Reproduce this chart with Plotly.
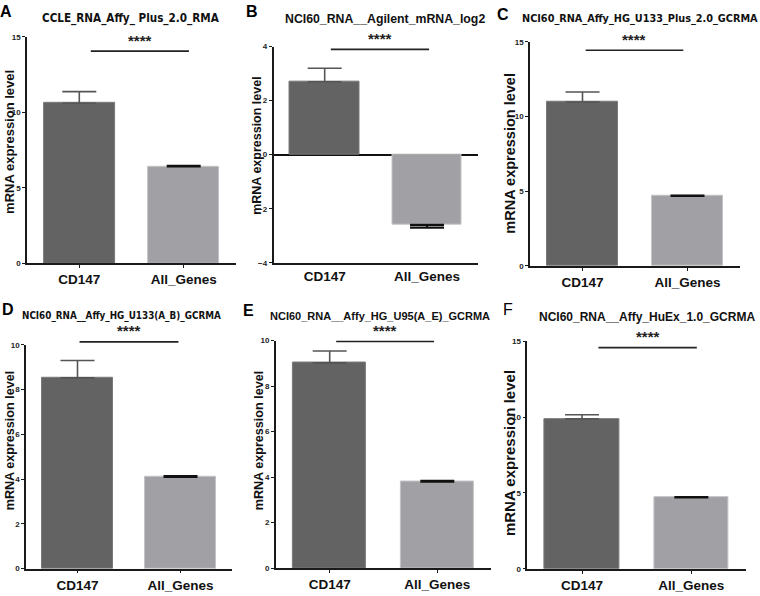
import plotly.graph_objects as go

W, H = 760, 596

# ---------------- data ----------------
categories = ["CD147", "All_Genes"]
panel_letters = ["A", "B", "C", "D", "E", "F"]
panel_titles = [
    "CCLE_RNA_Affy_ Plus_2.0_RMA",
    "NCI60_RNA__Agilent_mRNA_log2",
    "NCI60_RNA_Affy_HG_U133_Plus_2.0_GCRMA",
    "NCI60_RNA__Affy_HG_U133(A_B)_GCRMA",
    "NCI60_RNA__Affy_HG_U95(A_E)_GCRMA",
    "NCI60_RNA__Affy_HuEx_1.0_GCRMA",
]
cd147_mean = [10.6, 2.7, 10.97, 8.52, 9.02, 9.88]
cd147_err = [0.77, 0.5, 0.67, 0.78, 0.52, 0.27]
allgenes_mean = [6.42, -2.6, 4.68, 4.1, 3.8, 4.7]
allgenes_err = [0.03, 0.1, 0.03, 0.03, 0.03, 0.03]
y_ranges = [[0, 15], [-4, 4], [0, 15], [0, 10], [0, 10], [0, 15]]
y_dticks = [5, 2, 5, 2, 2, 5]
sig_y = [14.05, 3.9, 14.43, 10.13, 9.96, 14.57]
sig_x0 = [0.11, 0.06, 0.03, 0.02, 0.06, 0.15]
sig_x1 = [1.05, 1.02, 0.96, 0.98, 0.97, 1.05]
sig_label = "****"
y_title = "mRNA expression level"

X_RANGE = [-0.5, 1.5]

# ---------------- layout geometry (pixels) ----------------
frames = [  # x_left, x_right, y_top, y_bottom
    (27.1, 235.9, 33.3, 263.3),
    (273.5, 478.2, 43.3, 262.7),
    (530.0, 740.0, 38.3, 266.0),
    (26.0, 232.0, 346.0, 573.3),
    (275.9, 491.1, 341.7, 572.7),
    (527.4, 746.0, 342.3, 573.5),
]
NARROW = "DejaVu Sans Condensed, Liberation Sans"
title_pos = [(130.5, 15), (385, 15), (640, 15), (121.7, 316.7), (380.3, 316.7), (646.5, 318)]
title_font = [
    dict(family=NARROW, size=11.6, weight="bold"),
    dict(family="Liberation Sans", size=12.3, weight="bold"),
    dict(family=NARROW, size=10.8, weight="bold"),
    dict(family=NARROW, size=9.8, weight="bold"),
    dict(family="Liberation Sans", size=11, weight="bold"),
    dict(family="Liberation Sans", size=12, weight="bold"),
]
letter_pos = [(6, 8), (252, 8), (503, 11), (8, 310), (248, 311), (508, 310)]
letter_bold = [True, True, True, True, True, False]
ytitle_pos = [(10, 140), (257, 144), (510, 152), (10, 443), (259, 443), (509, 456)]
ytitle_size = [13, 12.5, 14.5, 12.6, 12.6, 15]

DARK = "#636363"
LIGHT = "#a1a1a5"


def dom_x(v):
    return (v - X_RANGE[0]) / (X_RANGE[1] - X_RANGE[0])


def dom_y(v, r):
    return (v - r[0]) / (r[1] - r[0])


fig = go.Figure()
shapes = []
annotations = []
layout = dict(
    width=W, height=H, margin=dict(l=0, r=0, t=0, b=0),
    plot_bgcolor="white", paper_bgcolor="white", showlegend=False,
    bargap=0,
)

for i in range(6):
    n = "" if i == 0 else str(i + 1)
    xa, ya = "x" + n, "y" + n
    xl, xr, yt, yb = frames[i]
    fig.add_trace(go.Bar(
        x=[0], y=[cd147_mean[i]], width=0.68, xaxis=xa, yaxis=ya,
        marker=dict(color=DARK, line=dict(color="#7a7a7a", width=1)),
        error_y=dict(type="data", symmetric=False,
                     array=[cd147_err[i] if cd147_mean[i] >= 0 else 0],
                     arrayminus=[0 if cd147_mean[i] >= 0 else cd147_err[i]],
                     color="#555555", thickness=1.6, width=17),
    ))
    fig.add_trace(go.Bar(
        x=[1], y=[allgenes_mean[i]], width=0.68, xaxis=xa, yaxis=ya,
        marker=dict(color=LIGHT, line=dict(color="#c4c4c6", width=1)),
        error_y=dict(type="data", symmetric=False,
                     array=[allgenes_err[i] if allgenes_mean[i] >= 0 else 0],
                     arrayminus=[0 if allgenes_mean[i] >= 0 else allgenes_err[i]],
                     color="#111111", thickness=2.2, width=17),
    ))
    is_b = y_ranges[i][0] < 0
    layout["xaxis" + n] = dict(
        domain=[xl / W, xr / W], anchor=ya, range=X_RANGE,
        tickmode="array", tickvals=[0, 1], ticktext=categories,
        showline=True, linecolor="#1a1a1a", linewidth=1.6,
        ticks="" if is_b else "outside", ticklen=3, tickwidth=1.2, tickcolor="#1a1a1a",
        tickfont=dict(family="Liberation Sans", size=13.5, color="#111", weight="bold"),
        showgrid=False, zeroline=False, fixedrange=True,
    )
    layout["yaxis" + n] = dict(
        domain=[1 - yb / H, 1 - yt / H], anchor=xa, range=y_ranges[i],
        dtick=y_dticks[i], tick0=0,
        showline=True, linecolor="#1a1a1a", linewidth=1.6,
        ticks="outside", ticklen=3, tickwidth=1.2, tickcolor="#1a1a1a",
        tickfont=dict(family="Liberation Sans", size=8, color="#222", weight="bold"),
        showgrid=False, zeroline=is_b, zerolinecolor="#111", zerolinewidth=1.6,
        fixedrange=True,
    )
    # significance line and stars (axis-domain references so they may sit above the range)
    sy = dom_y(sig_y[i], y_ranges[i])
    shapes.append(dict(type="line", xref=xa + " domain", yref=ya + " domain",
                       x0=dom_x(sig_x0[i]), x1=dom_x(sig_x1[i]), y0=sy, y1=sy,
                       line=dict(color="#222", width=1.6)))
    annotations.append(dict(xref=xa + " domain", yref=ya + " domain",
                            x=dom_x((sig_x0[i] + sig_x1[i]) / 2), y=sy,
                            text=sig_label, showarrow=False, yanchor="middle", yshift=11,
                            font=dict(family="Liberation Sans", size=15, color="#222", weight="bold")))
    # title
    tx, ty = title_pos[i]
    annotations.append(dict(xref="paper", yref="paper", x=tx / W, y=1 - ty / H,
                            text=panel_titles[i], showarrow=False, xanchor="center", yanchor="middle",
                            font=dict(color="#111", **title_font[i])))
    # panel letter
    lx, ly = letter_pos[i]
    annotations.append(dict(xref="paper", yref="paper", x=lx / W, y=1 - ly / H,
                            text=panel_letters[i], showarrow=False, xanchor="center", yanchor="middle",
                            font=dict(family="Liberation Sans", size=16, color="#000",
                                      weight="bold" if letter_bold[i] else "normal")))
    # y axis title
    yx, yy = ytitle_pos[i]
    annotations.append(dict(xref="paper", yref="paper", x=yx / W, y=1 - yy / H,
                            text=y_title, showarrow=False, textangle=-90,
                            xanchor="center", yanchor="middle",
                            font=dict(family="Liberation Sans", size=ytitle_size[i], color="#111",
                                      weight="bold")))

layout["shapes"] = shapes
layout["annotations"] = annotations
fig.update_layout(**layout)
fig.write_html("out.html", config={"displayModeBar": False},
               post_script="document.body.style.margin='0';document.body.style.padding='0';")
